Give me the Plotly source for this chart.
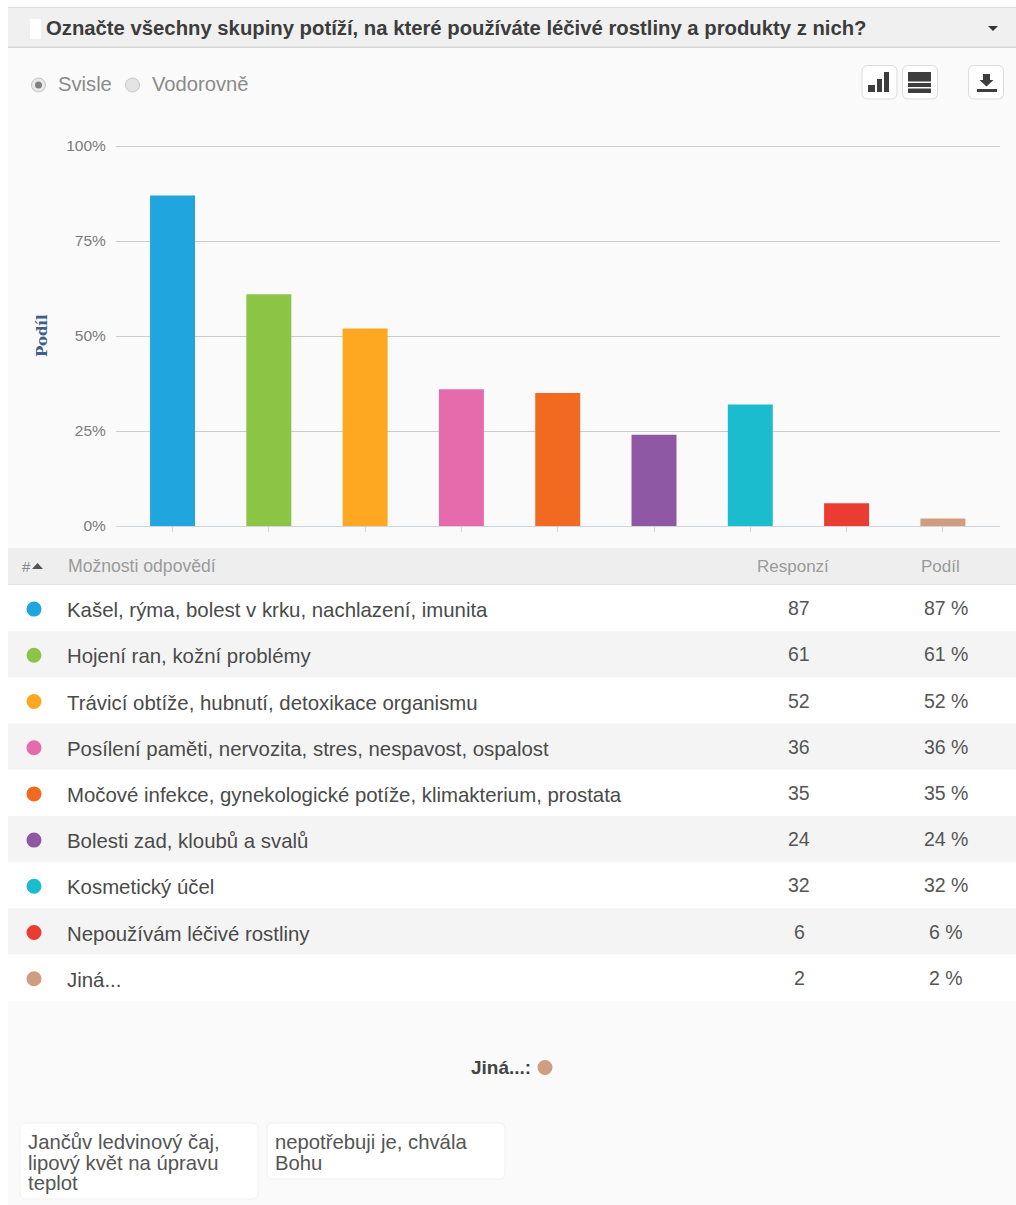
import plotly.graph_objects as go

W, H = 1016, 1205

question = "Označte všechny skupiny potíží, na které používáte léčivé rostliny a produkty z nich?"
categories = [
    "Kašel, rýma, bolest v krku, nachlazení, imunita",
    "Hojení ran, kožní problémy",
    "Trávicí obtíže, hubnutí, detoxikace organismu",
    "Posílení paměti, nervozita, stres, nespavost, ospalost",
    "Močové infekce, gynekologické potíže, klimakterium, prostata",
    "Bolesti zad, kloubů a svalů",
    "Kosmetický účel",
    "Nepoužívám léčivé rostliny",
    "Jiná...",
]
responses = [87, 61, 52, 36, 35, 24, 32, 6, 2]
shares = [87, 61, 52, 36, 35, 24, 32, 6, 2]
bar_colors = ["#20a5de", "#8cc546", "#fea821", "#e66bac", "#f26a22",
              "#8e58a4", "#1cbccf", "#ea3c32", "#cf9d7f"]
y_ticks = [0, 25, 50, 75, 100]
y_tick_labels = ["0%", "25%", "50%", "75%", "100%"]
other_answers = [
    ["Jančův ledvinový čaj,", "lipový květ na úpravu", "teplot"],
    ["nepotřebuji je, chvála", "Bohu"],
]


def px(x):
    return x / W


def py(y):
    return 1 - y / H


shapes, notes = [], []


def rect(x0, y0, x1, y1, fill, line=None, layer="below"):
    shapes.append(dict(type="rect", xref="paper", yref="paper", layer=layer,
                       x0=px(x0), x1=px(x1), y0=py(y0), y1=py(y1),
                       fillcolor=fill, line=dict(color=line or fill, width=1 if line else 0)))


def rounded(x0, y0, x1, y1, r, fill, line=None):
    path = (f"M {px(x0+r)} {py(y0)} L {px(x1-r)} {py(y0)} "
            f"Q {px(x1)} {py(y0)} {px(x1)} {py(y0+r)} L {px(x1)} {py(y1-r)} "
            f"Q {px(x1)} {py(y1)} {px(x1-r)} {py(y1)} L {px(x0+r)} {py(y1)} "
            f"Q {px(x0)} {py(y1)} {px(x0)} {py(y1-r)} L {px(x0)} {py(y0+r)} "
            f"Q {px(x0)} {py(y0)} {px(x0+r)} {py(y0)} Z")
    shapes.append(dict(type="path", xref="paper", yref="paper", layer="below", path=path,
                       fillcolor=fill, line=dict(color=line or fill, width=1 if line else 0)))


def dot(cx, cy, r, fill, line=None):
    shapes.append(dict(type="circle", xref="paper", yref="paper", layer="above",
                       x0=px(cx-r), x1=px(cx+r), y0=py(cy-r), y1=py(cy+r),
                       fillcolor=fill, line=dict(color=line or fill, width=1 if line else 0)))


def triangle(pts, fill):
    path = "M " + " L ".join(f"{px(x)} {py(y)}" for x, y in pts) + " Z"
    shapes.append(dict(type="path", xref="paper", yref="paper", layer="above", path=path,
                       fillcolor=fill, line=dict(width=0)))


def text(x, y, s, size=18, color="#444444", anchor="left", family="Liberation Sans", angle=0):
    # annotations carry 2px of inner padding on the anchored side
    nudge = -2 if anchor == "left" else 0
    notes.append(dict(xref="paper", yref="paper", x=px(x + nudge), y=py(y), text=s, showarrow=False,
                      xanchor=anchor, yanchor="middle", textangle=angle, align=anchor,
                      font=dict(family=family, size=size, color=color)))


# Panel, question header
rect(8, 8, W, H, "#fafafa")
rect(8, 8, W, 47, "#f0f0f0")
rect(8, 46.5, W, 48, "#d5d5d5")
rect(8, 7, W, 8, "#dddddd")
rect(30, 19, 41, 39, "#ffffff")
text(46, 27.5, f"<b>{question}</b>", size=20.3, color="#3c3c3c")
triangle([(988, 26), (998, 26), (993, 31)], "#333333")

# Orientation switch
dot(38.5, 85, 7, "#e8e8e8", "#c4c4c4")
dot(38.5, 85, 3.5, "#808080")
text(58, 84, "Svisle", size=20.2, color="#8a8a8a")
dot(132.5, 85, 7, "#e4e4e4", "#c8c8c8")
text(152, 84, "Vodorovně", size=20.2, color="#8a8a8a")

# Toolbar buttons
for x0 in (862, 902.5, 968.5):
    rounded(x0, 65.5, x0 + 35, 99, 6, "#ffffff", "#dcdcdc")
for x0, x1, top in ((868, 875, 85), (877, 882, 79), (884, 889, 72)):
    rect(x0, top, x1, 92, "#3d3d3d", layer="above")
for y0, y1 in ((72, 81.5), (83, 87), (88.5, 93)):
    rect(908, y0, 931, y1, "#3d3d3d", layer="above")
rect(983, 74, 990, 81, "#3d3d3d", layer="above")
triangle([(979.5, 80), (993.5, 80), (986.5, 86.5)], "#3d3d3d")
rect(977, 89, 997, 92, "#3d3d3d", layer="above")

# Table head
rect(8, 548, W, 584, "#eeeeee")
rect(8, 584, W, 585, "#e4e4e4")
text(22, 566, "#", size=15, color="#888888")
triangle([(32, 569), (43, 569), (37.5, 563)], "#555555")
text(68, 566, "Možnosti odpovědí", size=17.6, color="#9a9a9a")
text(793, 566, "Responzí", size=17, color="#9a9a9a", anchor="center")
text(940, 566, "Podíl", size=17, color="#9a9a9a", anchor="center")

# Table rows
ROW_TOP, ROW_H = 585, 46.2
for i, (name, count, share, color) in enumerate(zip(categories, responses, shares, bar_colors)):
    top = ROW_TOP + i * ROW_H
    mid = top + ROW_H / 2
    rect(8, top, W, top + ROW_H, "#ffffff" if i % 2 == 0 else "#f4f4f4")
    dot(34, mid + 1, 7.5, color)
    text(67, mid + 2, name, size=20.4, color="#4a4a4a")
    text(799, mid, str(count), size=19.5, color="#555555", anchor="center")
    text(946, mid, f"{share} %", size=19.5, color="#555555", anchor="center")

# Free-text answers
text(501, 1067, "<b>Jiná...:</b>", size=19, color="#444444", anchor="center")
dot(545, 1067.5, 7.5, bar_colors[-1])
for x0, y1, lines in ((20, 1199, other_answers[0]), (267, 1179, other_answers[1])):
    rounded(x0, 1123, x0 + 238, y1, 6, "#ffffff", "#f1f1f1")
    for j, line in enumerate(lines):
        text(x0 + 8, 1142 + j * 20.5, line, size=20.3, color="#555555")

# Rotated axis caption
text(42, 336, "<b>Podíl</b>", size=15, color="#3e5f8a", anchor="center",
     family="DejaVu Serif", angle=-90)

fig = go.Figure(go.Bar(
    x=categories, y=shares, width=0.467,
    marker=dict(color=bar_colors, line=dict(width=0)),
    hoverinfo="skip",
))
# The value axis runs slightly past 100 so the top gridline is not clipped at the plot edge
fig.update_layout(
    width=W, height=H, autosize=False,
    margin=dict(l=0, r=0, t=0, b=0, pad=0, autoexpand=False),
    paper_bgcolor="#ffffff", plot_bgcolor="rgba(0,0,0,0)", showlegend=False,
    shapes=shapes, annotations=notes,
    xaxis=dict(domain=[px(116), px(1000)], range=[-0.587, 8.593], type="category",
               categoryorder="array", categoryarray=categories, showticklabels=False,
               ticks="outside", ticklen=5, tickcolor="#d4d4d4", showgrid=False,
               showline=True, linecolor="#d0d4dc", linewidth=1, anchor="y"),
    yaxis=dict(domain=[py(526), py(142.2)], range=[0, 101], tickmode="array",
               tickvals=y_ticks, ticktext=y_tick_labels,
               tickfont=dict(family="Liberation Sans", size=15.5, color="#7a7a7a"),
               gridcolor="#cbcbcb", gridwidth=1, zeroline=False, showline=False,
               ticks="outside", ticklen=6, tickcolor="rgba(0,0,0,0)", anchor="x"),
)
fig.write_html("out.html", config={"displayModeBar": False})
